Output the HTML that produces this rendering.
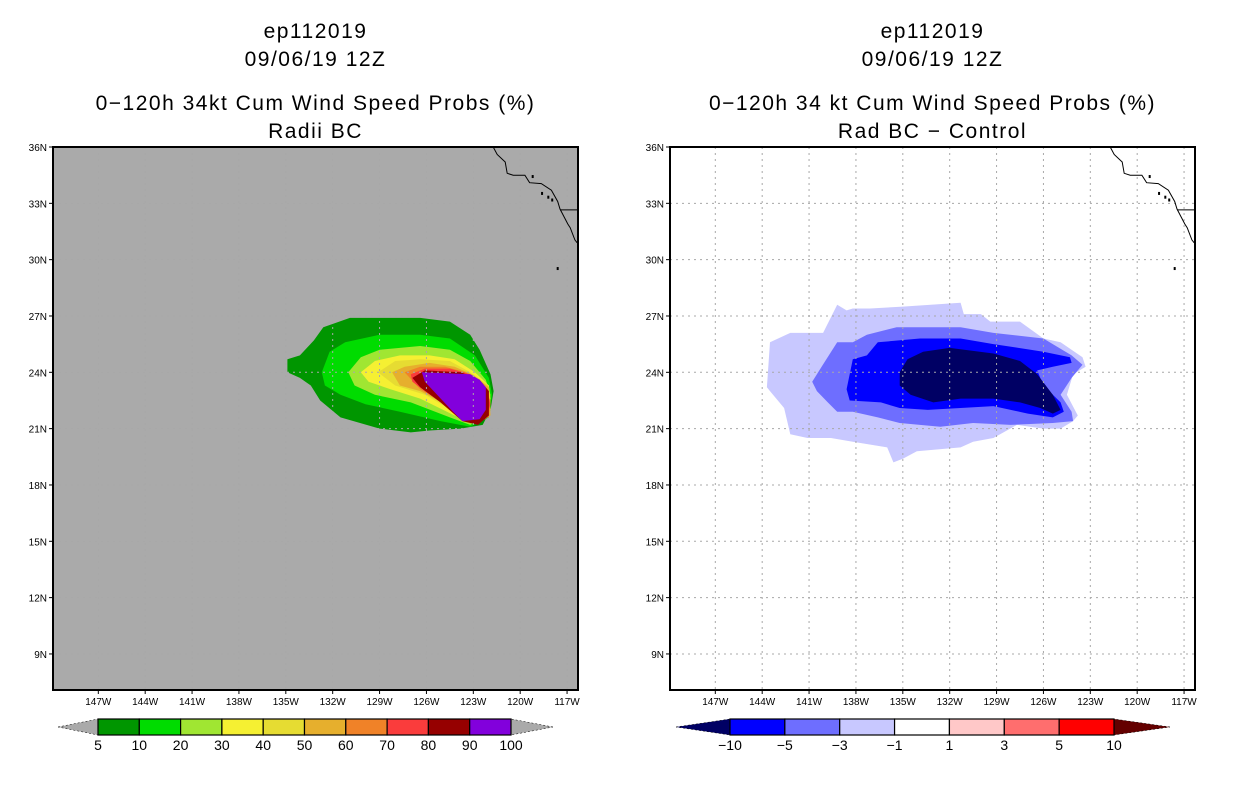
<!DOCTYPE html>
<html><head><meta charset="utf-8">
<style>
html,body{margin:0;padding:0;background:#fff;}
svg{display:block;font-family:"Liberation Sans",sans-serif;}
.t{font-size:21px;letter-spacing:1.5px;text-anchor:middle;fill:#000;}
.tk{font-size:10px;fill:#000;}
.cb{font-size:14px;fill:#000;text-anchor:middle;}
</style></head>
<body>
<svg id="root" width="1236" height="800" viewBox="0 0 1236 800"></svg>
<script>
// ---- data ----
const latTicks=[36,33,30,27,24,21,18,15,12,9];
const lonTicks=[147,144,141,138,135,132,129,126,123,120,117];
const leftLevels=["5","10","20","30","40","50","60","70","80","90","100"];
const leftColors=["#009600","#00dc00","#a0e632","#f5f032","#e6dc32","#e6af2d","#f08228","#fa3c3c","#960000","#8200dc"];
const rightLevels=["\u221210","\u22125","\u22123","\u22121","1","3","5","10"];
const rightColors=["#0000ff","#6e6eff","#c8c8ff","#ffffff","#ffc8c8","#ff6e6e","#ff0000"];
const rightEndColors=["#000064","#640000"];
// left contours (lonW, latN), 5% .. 90%
const probC5=[[134.9,24.7],[134.1,24.9],[133.2,25.7],[132.6,26.4],[130.9,26.9],[126.4,26.9],[124.5,26.7],[123.2,26.0],[122.6,25.2],[121.9,23.9],[121.7,23.0],[121.9,22.0],[122.4,21.2],[123.8,21.0],[125.8,20.9],[127.0,20.8],[129.0,21.0],[131.5,21.6],[132.8,22.5],[133.4,23.3],[134.1,23.7],[134.9,24.0]];
const probC10=[[132.7,24.0],[132.2,25.1],[131.2,25.6],[129.0,26.0],[126.4,26.0],[124.5,25.8],[122.9,24.9],[122.0,23.7],[121.8,22.8],[122.0,21.6],[123.2,21.1],[125.1,21.4],[127.7,21.9],[129.9,22.3],[131.5,22.8],[132.5,23.3]];
const probC20=[[131.0,24.0],[130.2,24.8],[129.0,25.2],[126.4,25.4],[124.5,25.2],[123.2,24.6],[122.2,23.6],[121.9,22.8],[122.2,21.6],[123.2,21.2],[124.5,21.6],[127.0,22.4],[129.3,22.8],[130.6,23.3]];
const probC30=[[130.2,24.0],[129.3,24.6],[127.7,24.9],[125.8,24.9],[124.2,24.7],[122.9,24.0],[122.0,23.3],[121.9,22.6],[122.2,21.6],[123.1,21.3],[124.2,21.7],[126.4,22.6],[128.3,23.1],[129.7,23.5]];
const probC40=[[129.1,24.0],[128.0,24.6],[126.4,24.7],[124.5,24.6],[123.2,24.0],[122.0,23.3],[121.9,22.0],[122.3,21.5],[123.1,21.3],[124.0,21.8],[126.1,22.8],[128.0,23.3]];
const probC50=[[128.2,24.0],[127.4,24.3],[125.8,24.5],[124.2,24.3],[123.1,23.9],[122.0,23.2],[121.9,21.7],[123.2,21.4],[124.8,22.3],[126.4,23.0],[127.7,23.3]];
const probC60=[[127.4,24.0],[126.4,24.3],[124.8,24.3],[123.5,24.0],[122.4,23.3],[121.9,22.5],[122.0,21.6],[123.2,21.4],[124.8,22.3],[126.4,23.1]];
const probC70=[[127.0,23.9],[126.1,24.2],[124.5,24.2],[123.2,23.9],[122.2,23.2],[121.9,22.3],[122.2,21.5],[123.2,21.4],[124.8,22.3],[126.1,23.0],[126.9,23.5]];
const probC80=[[126.9,23.7],[126.1,24.1],[123.8,24.0],[122.6,23.6],[122.0,23.0],[122.0,21.7],[122.7,21.2],[123.7,21.4],[125.1,22.4],[126.4,23.2]];
const probC90=[[126.3,24.0],[123.2,23.9],[122.6,23.6],[122.2,23.2],[122.2,22.0],[122.6,21.5],[123.7,21.4],[124.3,21.9],[126.1,23.5]];
// right contours (difference)
const diffCm1=[[143.5,25.6],[142.2,26.1],[140.1,26.1],[139.2,27.6],[138.6,27.3],[138.2,27.4],[137.1,27.4],[135.0,27.5],[131.3,27.7],[131.1,27.1],[130.0,27.1],[129.4,26.7],[127.5,26.7],[126.0,25.8],[124.9,25.6],[123.5,24.8],[123.3,24.3],[124.1,23.9],[124.5,22.8],[123.8,21.7],[124.1,21.4],[124.9,21.0],[126.0,21.0],[127.7,21.2],[129.2,20.5],[130.5,20.3],[131.3,20.0],[134.1,19.8],[135.0,19.4],[135.6,19.2],[136.0,20.0],[138.2,20.3],[139.6,20.5],[141.1,20.5],[142.2,20.7],[142.6,22.1],[143.5,23.0],[143.7,23.2]];
const diffCm3=[[140.8,23.5],[140.2,24.3],[139.2,25.6],[138.2,25.6],[137.3,26.0],[135.4,26.4],[131.3,26.4],[129.2,26.1],[126.0,25.8],[124.2,24.9],[123.5,24.4],[124.2,23.7],[124.9,22.8],[124.2,21.9],[124.1,21.4],[125.4,21.3],[128.1,21.2],[130.5,21.3],[132.6,21.1],[135.2,21.3],[136.6,21.6],[138.2,21.9],[139.2,21.9],[139.8,22.4],[140.5,23.0]];
const diffCm5=[[138.2,24.7],[137.3,24.9],[136.6,25.6],[133.9,25.8],[131.3,25.8],[129.2,25.5],[126.0,25.1],[124.3,24.8],[124.2,24.5],[125.4,24.3],[126.4,24.1],[126.0,23.3],[124.9,22.4],[124.7,21.9],[125.4,21.6],[127.0,21.8],[129.2,22.2],[131.3,22.1],[133.4,22.0],[135.2,22.1],[136.4,22.4],[138.4,22.5],[138.6,23.1]];
const diffCm10=[[135.2,24.0],[134.7,24.7],[133.7,25.1],[132.0,25.3],[129.2,25.0],[127.5,24.6],[126.4,23.9],[125.4,22.8],[124.9,22.0],[125.4,21.8],[126.2,22.1],[127.5,22.4],[129.2,22.6],[131.3,22.6],[133.05,22.4],[134.5,22.8],[135.2,23.3]];
const coast=[[121.73,36.0],[121.47,35.6],[120.96,35.2],[120.83,34.6],[120.45,34.5],[119.7,34.5],[119.4,34.1],[118.65,34.05],[118.0,33.7],[117.6,33.1],[117.45,32.7],[116.95,31.9],[116.8,31.7],[116.5,31.05],[116.35,30.9]];
const border=[[117.45,32.65],[116.3,32.65]];
const islands=[[119.2,34.4],[118.6,33.5],[118.2,33.3],[117.95,33.15],[117.6,29.5]];
const titles=[["ep112019","09/06/19 12Z","0\u2212120h 34kt Cum Wind Speed Probs (%)","Radii BC"],["ep112019","09/06/19 12Z","0\u2212120h 34 kt Cum Wind Speed Probs (%)","Rad BC \u2212 Control"]];

const NS="http://www.w3.org/2000/svg";
const root=document.getElementById('root');
function mk(tag,attrs,parent){const e=document.createElementNS(NS,tag);for(const k in attrs)e.setAttribute(k,attrs[k]);(parent||root).appendChild(e);return e;}
const lonMax=149.9,lonMin=116.3,latMax=36,latMin=7.08;
const top0=147,bot0=690,W=525;
function xs(x0){return lon=>x0+(lonMax-lon)/(lonMax-lonMin)*W;}
function ys(lat){return top0+(latMax-lat)/(latMax-latMin)*(bot0-top0);}
function pts(arr,X){return arr.map(p=>X(p[0]).toFixed(1)+","+ys(p[1]).toFixed(1)).join(" ");}

function panel(x0,bg,contours,colors,idx,name){
  const X=xs(x0);
  const g=mk('g',{});
  
  
  const cx=x0+W/2;
  const ty=[38,66,110,138];
  titles[idx].forEach((t,i)=>{const e=mk('text',{x:cx,y:ty[i],class:'t'},g);e.textContent=t;
    
    });
  const bgR=mk('rect',{x:x0,y:top0,width:W,height:bot0-top0,fill:bg},g);
  
  
  contours.forEach((c,i)=>{const p=mk('polygon',{points:pts(c,X),fill:colors[i]},g);
    
    });
  lonTicks.forEach(l=>{const x=X(l);const ln=mk('line',{x1:x,x2:x,y1:top0,y2:bot0,stroke:'#a8a8a8','stroke-dasharray':'2,4','stroke-width':1},g);
    
    });
  latTicks.forEach(l=>{const y=ys(l);const ln=mk('line',{x1:x0,x2:x0+W,y1:y,y2:y,stroke:'#a8a8a8','stroke-dasharray':'2,4','stroke-width':1},g);
    
    });
  const cl=mk('polyline',{points:pts(coast,X),fill:'none',stroke:'#000','stroke-width':1},g);
  
  
  const bl=mk('polyline',{points:pts(border,X),fill:'none',stroke:'#000','stroke-width':1},g);
  
  
  islands.forEach(p=>{const r=mk('rect',{x:X(p[0])-1,y:ys(p[1])-2,width:2,height:3,fill:'#000'},g);
    
    });
  const fr=mk('rect',{x:x0,y:top0,width:W,height:bot0-top0,fill:'none',stroke:'#000','stroke-width':2},g);
  
  
  latTicks.forEach(l=>{const y=ys(l);mk('line',{x1:x0-4,x2:x0,y1:y,y2:y,stroke:'#000'},g);
    const t=mk('text',{x:x0-6,y:y+4,class:'tk','text-anchor':'end'},g);t.textContent=l+'N';
    
    });
  lonTicks.forEach(l=>{const x=X(l);mk('line',{x1:x,x2:x,y1:bot0,y2:bot0+4,stroke:'#000'},g);
    const t=mk('text',{x:x,y:bot0+15,class:'tk','text-anchor':'middle'},g);t.textContent=l+'W';
    
    });
}
panel(53,'#aaaaaa',[probC5,probC10,probC20,probC30,probC40,probC50,probC60,probC70,probC80,probC90],leftColors,0,'left-panel');
panel(670,'#ffffff',[diffCm1,diffCm3,diffCm5,diffCm10],['#c8c8ff','#6e6eff','#0000ff','#000064'],1,'right-panel');

function colorbar(tipL,x0,x1,tipR,colors,labels,endL,endR,name){
  const g=mk('g',{});
  
  
  const y0=719,y1=735,ym=727;
  mk('polygon',{points:`${tipL},${ym} ${x0},${y0} ${x0},${y1}`,fill:endL,stroke:'#000','stroke-width':0.5,'stroke-dasharray':'2,2'},g);
  mk('polygon',{points:`${tipR},${ym} ${x1},${y0} ${x1},${y1}`,fill:endR,stroke:'#000','stroke-width':0.5,'stroke-dasharray':'2,2'},g);
  const w=(x1-x0)/colors.length;
  colors.forEach((c,i)=>{const r=mk('rect',{x:x0+i*w,y:y0,width:w,height:y1-y0,fill:c,stroke:'#000','stroke-width':1.2},g);
    
    });
  labels.forEach((l,i)=>{const t=mk('text',{x:x0+i*w,y:750,class:'cb'},g);t.textContent=l;
    
    });
}
colorbar(58,98,511,553,leftColors,leftLevels,'#aaaaaa','#aaaaaa','left-colorbar');
colorbar(676,730,1114,1170,rightColors,rightLevels,rightEndColors[0],rightEndColors[1],'right-colorbar');
</script>
</body></html>
